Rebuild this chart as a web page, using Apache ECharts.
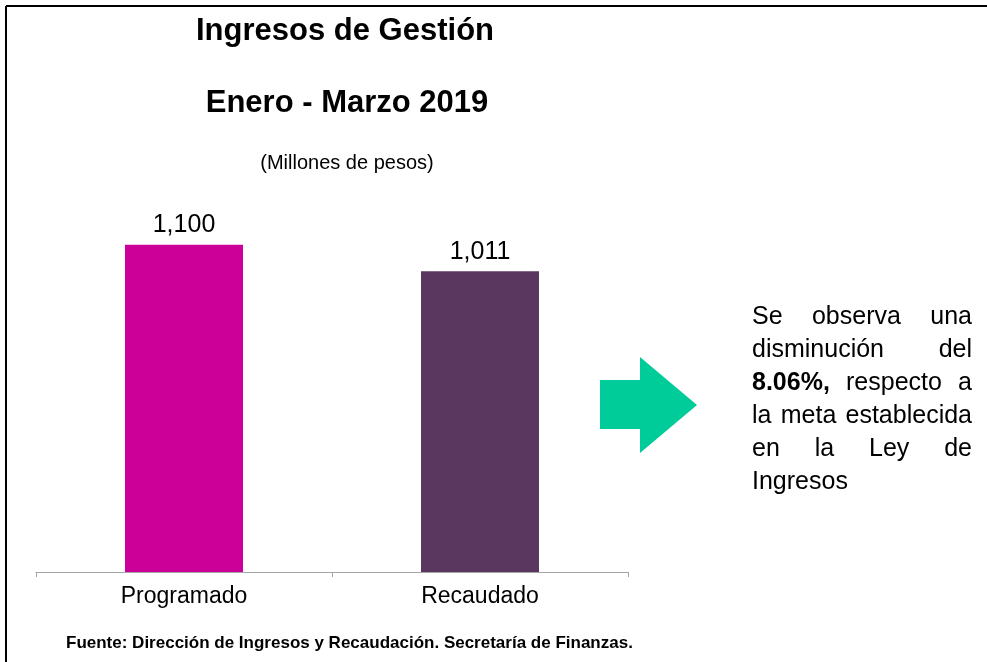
<!DOCTYPE html>
<html>
<head>
<meta charset="utf-8">
<script src="https://cdn.jsdelivr.net/npm/echarts@6/dist/echarts.min.js"></script>
<style>
  html, body {margin: 0; padding: 0; background: #fff;}
  #chart {width: 987px; height: 662px;}
</style>
</head>
<body>
<div id="chart"></div>
<script>
// datos
let categories = ['Programado', 'Recaudado'];
let values = [1100, 1011];
let barColors = ['#cc0099', '#5a375e'];
let titleText = 'Ingresos de Gestión';
let subTitleText = 'Enero - Marzo 2019';
let unitText = '(Millones de pesos)';
let sourceText = 'Fuente: Dirección de Ingresos y Recaudación. Secretaría de Finanzas.';
// nota de la derecha, palabra por palabra (b = negrita)
let noteLines = [
    [['Se'], ['observa'], ['una']],
    [['disminución'], ['del']],
    [['8.06%,', 'b'], ['respecto'], ['a']],
    [['la'], ['meta'], ['establecida']],
    [['en'], ['la'], ['Ley'], ['de']],
    [['Ingresos']]
];

let fontFam = '"Liberation Sans", Arial, sans-serif';
let ctx = document.createElement('canvas').getContext('2d');
let measure = function (txt, size, bold) {
    ctx.font = (bold ? 'bold ' : '') + size + 'px ' + fontFam;
    return ctx.measureText(txt).width;
};

// texto justificado como en el original
let noteGraphics = function () {
    let left = 752, right = 972, y0 = 317, lh = 33, fs = 25;
    let out = [];
    noteLines.forEach(function (line, i) {
        let widths = line.map(function (w) { return measure(w[0], fs, w[1] === 'b'); });
        let total = widths.reduce(function (a, b) { return a + b; }, 0);
        let last = i === noteLines.length - 1;
        let gap = (line.length > 1 && !last) ? (right - left - total) / (line.length - 1) : measure(' ', fs);
        let x = left;
        line.forEach(function (w, j) {
            out.push({
                type: 'text', x: x, y: y0 + i * lh,
                style: {
                    text: w[0], fill: '#000', font: (w[1] === 'b' ? 'bold ' : '') + fs + 'px ' + fontFam,
                    textAlign: 'left', textVerticalAlign: 'middle'
                }
            });
            x += widths[j] + gap;
        });
    });
    return out;
};

let chart = echarts.init(document.getElementById('chart'));
let option = {
    backgroundColor: '#fff',
    animation: false,
    grid: {left: 36, right: 359, top: 215, bottom: 90},
    xAxis: {
        type: 'category',
        data: categories,
        axisLine: {lineStyle: {color: '#a6a6a6', width: 1}},
        axisTick: {show: true, length: 5, lineStyle: {color: '#a6a6a6'}},
        axisLabel: {color: '#000', fontSize: 23, fontFamily: fontFam, margin: 13}
    },
    yAxis: {type: 'value', min: 0, max: 1200, show: false, splitLine: {show: false}},
    series: [{
        type: 'bar',
        barWidth: 118,
        data: values.map(function (v, i) { return {value: v, itemStyle: {color: barColors[i]}}; }),
        label: {
            show: true, position: 'top', distance: 7,
            color: '#000', fontSize: 25, fontFamily: fontFam,
            formatter: function (p) { return p.value.toLocaleString('en-US'); }
        }
    }],
    graphic: [
        {type: 'line', shape: {x1: 6, y1: 6, x2: 987, y2: 6}, style: {stroke: '#000', lineWidth: 2}},
        {type: 'line', shape: {x1: 6, y1: 6, x2: 6, y2: 662}, style: {stroke: '#000', lineWidth: 2}},
        {type: 'text', x: 345, y: 31, style: {text: titleText, font: 'bold 31px ' + fontFam, fill: '#000', textAlign: 'center', textVerticalAlign: 'middle'}},
        {type: 'text', x: 347, y: 103, style: {text: subTitleText, font: 'bold 31px ' + fontFam, fill: '#000', textAlign: 'center', textVerticalAlign: 'middle'}},
        {type: 'text', x: 347, y: 163, style: {text: unitText, font: '20px ' + fontFam, fill: '#000', textAlign: 'center', textVerticalAlign: 'middle'}},
        {type: 'text', x: 66, y: 643, style: {text: sourceText, font: 'bold 17px ' + fontFam, fill: '#000', textAlign: 'left', textVerticalAlign: 'middle'}},
        {
            type: 'polygon',
            shape: {points: [[600, 380], [640, 380], [640, 357], [697, 405], [640, 453], [640, 429], [600, 429]]},
            style: {fill: '#00cc99'}
        }
    ].concat(noteGraphics())
};
chart.setOption(option);
</script>
</body>
</html>
